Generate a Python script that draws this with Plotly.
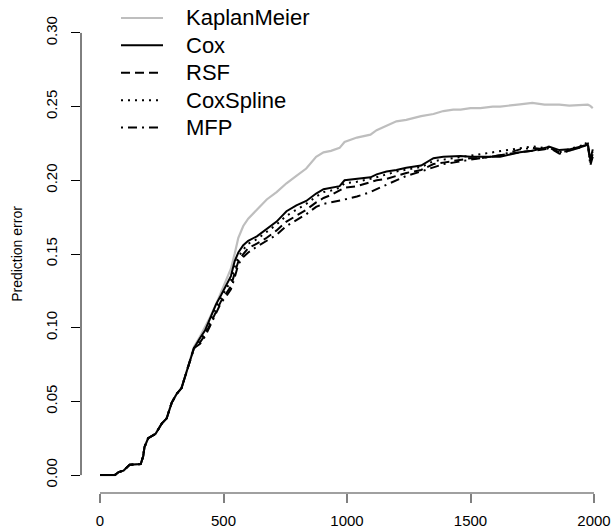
import plotly.graph_objects as go

# ---- data ----
time_days = [0, 60, 75, 95, 120, 165, 175, 180, 195, 225, 250, 270, 290, 310, 330, 350, 365, 380,
             405, 425, 445, 470, 490, 510, 530, 545, 560, 580, 600, 635, 675, 715, 755, 795, 835,
             875, 905, 935, 970, 990, 1040, 1095, 1120, 1160, 1200, 1240, 1300, 1350, 1390, 1430,
             1460, 1500, 1540, 1590, 1620, 1700, 1750, 1800, 1820, 1860, 1900, 1940, 1975, 1985, 1995]

early = [0, 0, 0.002, 0.003, 0.007, 0.0075, 0.013, 0.019, 0.025, 0.028, 0.035, 0.0385, 0.049,
         0.055, 0.059, 0.070, 0.079]

kaplan_meier = early + [0.087, 0.094, 0.100, 0.107, 0.116, 0.124, 0.131, 0.140, 0.150, 0.161, 0.169,
                        0.174, 0.180, 0.187, 0.192, 0.198, 0.203, 0.208, 0.216, 0.219, 0.220, 0.222,
                        0.226, 0.229, 0.231, 0.234, 0.237, 0.240, 0.241, 0.2435, 0.245, 0.247, 0.248,
                        0.248, 0.249, 0.249, 0.250, 0.250, 0.2515, 0.2525, 0.2513, 0.2513, 0.2513,
                        0.2507, 0.251, 0.2513, 0.2505, 0.249]
cox = early + [0.086, 0.093, 0.098, 0.106, 0.116, 0.122, 0.128, 0.135, 0.145, 0.151, 0.156, 0.159,
               0.162, 0.167, 0.172, 0.179, 0.183, 0.186, 0.191, 0.194, 0.195, 0.196, 0.200, 0.201,
               0.202, 0.204, 0.206, 0.207, 0.2085, 0.210, 0.215, 0.216, 0.2165, 0.2165, 0.216, 0.216,
               0.216, 0.216, 0.219, 0.220, 0.222, 0.2227, 0.2205, 0.221, 0.2227, 0.2243, 0.214, 0.221]
rsf = early + [0.086, 0.090, 0.095, 0.102, 0.111, 0.118, 0.123, 0.128, 0.137, 0.145, 0.150, 0.154,
               0.157, 0.161, 0.166, 0.172, 0.176, 0.180, 0.185, 0.188, 0.190, 0.193, 0.195, 0.196,
               0.199, 0.200, 0.201, 0.203, 0.205, 0.207, 0.211, 0.212, 0.213, 0.214, 0.215, 0.215,
               0.216, 0.217, 0.219, 0.220, 0.221, 0.222, 0.219, 0.220, 0.222, 0.224, 0.212, 0.218]
cox_spline = early + [0.086, 0.092, 0.097, 0.104, 0.114, 0.120, 0.126, 0.132, 0.141, 0.148, 0.153,
                      0.157, 0.160, 0.165, 0.170, 0.176, 0.180, 0.184, 0.189, 0.192, 0.193, 0.195,
                      0.198, 0.199, 0.201, 0.202, 0.204, 0.206, 0.207, 0.209, 0.213, 0.214, 0.215,
                      0.216, 0.217, 0.218, 0.219, 0.220, 0.222, 0.223, 0.222, 0.223, 0.219, 0.221,
                      0.223, 0.225, 0.213, 0.219]
mfp = early + [0.086, 0.089, 0.094, 0.101, 0.110, 0.117, 0.121, 0.126, 0.134, 0.143, 0.148, 0.151,
               0.155, 0.159, 0.163, 0.169, 0.173, 0.177, 0.182, 0.184, 0.185, 0.186, 0.187, 0.189,
               0.192, 0.194, 0.197, 0.200, 0.203, 0.206, 0.209, 0.211, 0.212, 0.213, 0.214, 0.215,
               0.216, 0.217, 0.221, 0.222, 0.221, 0.222, 0.218, 0.220, 0.222, 0.226, 0.210, 0.216]

series_names = ["KaplanMeier", "Cox", "RSF", "CoxSpline", "MFP"]
series_values = [kaplan_meier, cox, rsf, cox_spline, mfp]

x_ticks = [0, 500, 1000, 1500, 2000]
y_ticks = [0.00, 0.05, 0.10, 0.15, 0.20, 0.25, 0.30]
y_tick_text = ["0.00", "0.05", "0.10", "0.15", "0.20", "0.25", "0.30"]

# ---- styles ----
colors = ["#BEBEBE", "black", "black", "black", "black"]
widths = [2.2, 2, 2, 2, 2]
dashes = ["solid", "solid", "9px,5px", "2px,5px", "2px,5px,9px,5px"]

W, H = 615, 530
ML, MR, MT, MB = 81, 1, 15, 35
PW, PH = W - ML - MR, H - MT - MB
FONT = "Liberation Sans, Arial, Helvetica, sans-serif"

fig = go.Figure()
for name, vals, c, w, d in zip(series_names, series_values, colors, widths, dashes):
    fig.add_trace(go.Scatter(x=time_days, y=vals, mode="lines", name=name,
                             line=dict(color=c, width=w, dash=d), showlegend=False))

# axis lines (R style: only between first and last tick)
fig.add_shape(type="line", xref="paper", yref="y", x0=0, x1=0, y0=y_ticks[0], y1=y_ticks[-1],
              line=dict(color="black", width=1))
fig.add_shape(type="line", xref="x", yref="paper", x0=x_ticks[0], x1=x_ticks[-1], y0=0, y1=0,
              line=dict(color="#808080", width=1.5))

# manual legend
def px2paper(px, py):
    return (px - ML) / PW, (H - MB - py) / PH

for i, (name, c, w, d) in enumerate(zip(series_names, colors, widths, dashes)):
    row_y = 18 + 27.5 * i
    x0, y0 = px2paper(121, row_y)
    x1, _ = px2paper(163, row_y)
    fig.add_shape(type="line", xref="paper", yref="paper", x0=x0, x1=x1, y0=y0, y1=y0,
                  line=dict(color=c, width=w, dash=d))
    tx, ty = px2paper(184, row_y)
    fig.add_annotation(xref="paper", yref="paper", x=tx, y=ty, text=name, showarrow=False,
                       xanchor="left", yanchor="middle", font=dict(size=22, color="black", family=FONT))

fig.update_layout(
    width=W, height=H,
    margin=dict(l=ML, r=MR, t=MT, b=MB),
    paper_bgcolor="white", plot_bgcolor="white",
    font=dict(family=FONT, size=15, color="black"),
    xaxis=dict(range=[-77, 2081], tickvals=x_ticks, ticks="outside", ticklen=9, tickwidth=1.5,
               tickcolor="#808080", showline=False, showgrid=False, zeroline=False,
               tickfont=dict(size=15), ticklabelstandoff=5),
    yaxis=dict(range=[-0.01216, 0.31216], tickvals=y_ticks, ticktext=y_tick_text, ticks="outside",
               ticklen=9, tickcolor="black", showline=False, showgrid=False, zeroline=False,
               tickangle=-90, tickfont=dict(size=15), ticklabelstandoff=8,
               title=dict(text="Prediction error", font=dict(size=14), standoff=17)),
)

fig.write_html("out.html")
